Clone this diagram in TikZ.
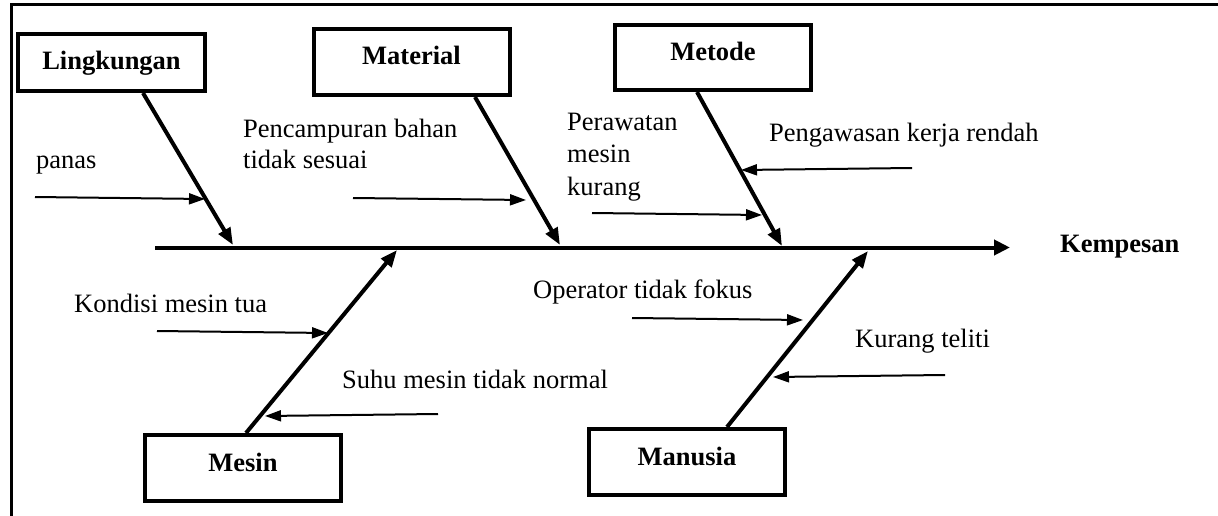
\documentclass[tikz,border=0pt]{standalone}
\usepackage{fontspec}
\setmainfont{Liberation Serif}
\usetikzlibrary{arrows.meta,calc}
\tikzset{
  catbox/.style={draw, line width=4pt, inner sep=0pt, minimum width=196pt, minimum height=66pt,
    font=\fontsize{26.5}{32}\selectfont\bfseries, text height=18pt, text depth=12pt},
  branch/.style={line width=4pt, -{Triangle[length=17pt,width=13pt]}},
  cause/.style={line width=2pt, -{Triangle[length=16pt,width=11pt]}},
  spine/.style={line width=4pt, -{Triangle[length=16pt,width=15pt]}},
  lbl/.style={inner sep=0pt, font=\fontsize{26.5}{32}\selectfont},
  multi/.style={inner sep=0pt, align=left, anchor=north west},
  headlbl/.style={inner sep=0pt, font=\fontsize{26.5}{32}\selectfont\bfseries},
  frame/.style={line width=3pt},
}
\begin{document}
\begin{tikzpicture}[x=1pt,y=-1pt]
\useasboundingbox (0,0) rectangle (1218,516);
% frame
\draw[frame] (10,5) -- (1218,5);
\draw[frame] (11.5,3.5) -- (11.5,516);

% category boxes
\node[catbox, minimum width=187pt, minimum height=57pt, text depth=3pt] (lingk) at (111.5,62.5) {Lingkungan};
\node[catbox] (mat) at (411.5,62) {Material};
\node[catbox, minimum height=65pt] (met) at (713,57.5) {Metode};
\node[catbox] (mes) at (243,468) {Mesin};
\node[catbox] (man) at (687,462) {Manusia};

% spine
\coordinate (sp0) at (155,247.5);
\coordinate (sp1) at (1010,247.5);
\draw[spine] (sp0) -- (sp1);
\node[headlbl, anchor=base west] (effect) at (1060,252) {Kempesan};

% branch end points on the spine
\coordinate (bL) at (233,245);
\coordinate (bMa) at (560,245);
\coordinate (bMe) at (782,246);
\coordinate (bMs) at (397,250);
\coordinate (bMn) at (868,251);

\draw[branch] ([xshift=31.5pt]lingk.south) -- (bL);
\draw[branch] ([xshift=63.5pt]mat.south) -- (bMa);
\draw[branch] ([xshift=-16pt]met.south) -- (bMe);
\draw[branch] ([xshift=3pt]mes.north) -- (bMs);
\draw[branch] ([xshift=40pt]man.north) -- (bMn);

% cause labels
\node[lbl, anchor=base west] (tPanas) at (36,168) {panas};
\node[lbl, multi, font=\fontsize{26.5}{31}\selectfont] (tPenc) at (243,119) {Pencampuran bahan\\tidak sesuai};
\node[lbl, multi, font=\fontsize{26.5}{32.5}\selectfont] (tPera) at (567,112.5) {Perawatan\\mesin\\kurang};
\node[lbl, anchor=base west] (tPeng) at (769,142) {Pengawasan kerja rendah};
\node[lbl, anchor=base west] (tKond) at (74,312) {Kondisi mesin tua};
\node[lbl, anchor=base west] (tSuhu) at (342,388) {Suhu mesin tidak normal};
\node[lbl, anchor=base west] (tOper) at (533,298) {Operator tidak fokus};
\node[lbl, anchor=base west] (tKur) at (855,347) {Kurang teliti};

% cause arrows
\coordinate (aPanas0) at (35,197);   \coordinate (aPanas1) at (205,199);
\coordinate (aPenc0) at (353,198);   \coordinate (aPenc1) at (526,200);
\coordinate (aPera0) at (592,213);   \coordinate (aPera1) at (762,215);
\coordinate (aPeng0) at (912,168);   \coordinate (aPeng1) at (741,170);
\coordinate (aKond0) at (157,331);   \coordinate (aKond1) at (328,333);
\coordinate (aSuhu0) at (438,414);   \coordinate (aSuhu1) at (265,416);
\coordinate (aOper0) at (632,318);   \coordinate (aOper1) at (803,320);
\coordinate (aKur0) at (945,375);    \coordinate (aKur1) at (773,377);

\draw[cause] (aPanas0) -- (aPanas1);
\draw[cause] (aPenc0) -- (aPenc1);
\draw[cause] (aPera0) -- (aPera1);
\draw[cause] (aPeng0) -- (aPeng1);
\draw[cause] (aKond0) -- (aKond1);
\draw[cause] (aSuhu0) -- (aSuhu1);
\draw[cause] (aOper0) -- (aOper1);
\draw[cause] (aKur0) -- (aKur1);
\end{tikzpicture}
\end{document}
